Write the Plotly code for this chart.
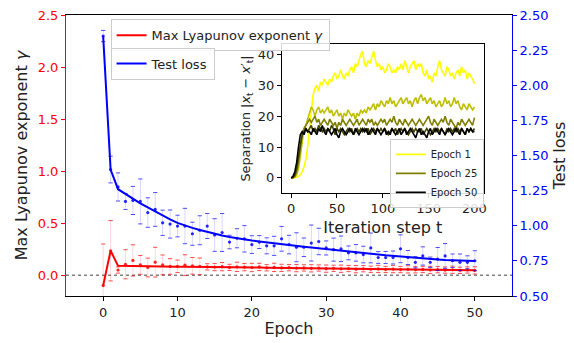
import plotly.graph_objects as go

# ---------------- data ----------------
epochs = list(range(51))

loss_fit = [2.35, 1.40, 1.26, 1.225, 1.19, 1.16, 1.13, 1.10, 1.07, 1.045,
            1.02, 1.0, 0.985, 0.97, 0.955, 0.94, 0.93, 0.92, 0.91, 0.902,
            0.895, 0.888, 0.881, 0.875, 0.869, 0.863, 0.857, 0.851, 0.846, 0.841,
            0.836, 0.831, 0.826, 0.82, 0.814, 0.808, 0.802, 0.796, 0.79, 0.785,
            0.78, 0.775, 0.77, 0.766, 0.762, 0.759, 0.756, 0.754, 0.752, 0.751,
            0.75]
loss_mean = [2.35, 1.40, 1.276, 1.173, 1.18, 1.173, 1.094, 1.116, 1.021, 1.012,
             0.998, 0.998, 0.943, 0.968, 0.998, 0.934, 0.952, 0.884, 0.911, 0.907,
             0.866, 0.884, 0.857, 0.857, 0.907, 0.866, 0.847, 0.847, 0.877, 0.888,
             0.842, 0.830, 0.836, 0.807, 0.807, 0.795, 0.842, 0.774, 0.774, 0.774,
             0.836, 0.774, 0.740, 0.785, 0.740, 0.763, 0.785, 0.751, 0.740, 0.740,
             0.751]
loss_err = [0.04, 0.095, 0.10, 0.057, 0.10, 0.16, 0.105, 0.12, 0.09, 0.10,
            0.077, 0.126, 0.082, 0.103, 0.089, 0.116, 0.135, 0.048, 0.068, 0.094,
            0.063, 0.046, 0.057, 0.068, 0.088, 0.066, 0.103, 0.066, 0.128, 0.094,
            0.05, 0.082, 0.091, 0.049, 0.059, 0.059, 0.106, 0.042, 0.043, 0.046,
            0.099, 0.05, 0.04, 0.065, 0.037, 0.082, 0.088, 0.048, 0.059, 0.046,
            0.071]

lyap_fit = [-0.10, 0.235, 0.09, 0.088, 0.087, 0.086, 0.085, 0.084, 0.083, 0.082,
            0.081, 0.080, 0.080, 0.079, 0.078, 0.078, 0.077, 0.076, 0.076, 0.075,
            0.074, 0.073, 0.072, 0.071, 0.070, 0.069, 0.068, 0.067, 0.066, 0.065,
            0.064, 0.063, 0.062, 0.061, 0.060, 0.059, 0.058, 0.058, 0.057, 0.056,
            0.055, 0.054, 0.053, 0.053, 0.052, 0.051, 0.050, 0.049, 0.048, 0.048,
            0.047]
lyap_mean = [-0.10, 0.235, 0.05, 0.105, 0.142, 0.099, 0.074, 0.125, 0.099, 0.084,
             0.085, 0.096, 0.09, 0.085, 0.08, 0.078, 0.082, 0.075, 0.08, 0.077,
             0.074, 0.079, 0.071, 0.075, 0.07, 0.072, 0.068, 0.07, 0.066, 0.069,
             0.063, 0.066, 0.062, 0.064, 0.058, 0.062, 0.057, 0.06, 0.055, 0.059,
             0.054, 0.056, 0.052, 0.055, 0.05, 0.053, 0.049, 0.052, 0.047, 0.05,
             0.046]
lyap_err = [0.40, 0.29, 0.03, 0.14, 0.15, 0.09, 0.09, 0.143, 0.095, 0.075,
            0.06, 0.10, 0.08, 0.08, 0.03, 0.035, 0.04, 0.03, 0.045, 0.035,
            0.04, 0.035, 0.03, 0.04, 0.035, 0.03, 0.035, 0.03, 0.035, 0.03,
            0.035, 0.03, 0.035, 0.03, 0.035, 0.03, 0.03, 0.035, 0.03, 0.035,
            0.03, 0.035, 0.03, 0.03, 0.035, 0.03, 0.03, 0.035, 0.03, 0.03,
            0.035]

steps = list(range(0, 201, 2))
sep_ep1 = [0, 0, 0, 0.2, 0.5, 1, 2, 3.5, 6, 10,
           16, 22, 27, 29, 30, 28, 31, 30, 32, 31,
           30, 32, 31, 33, 34, 32, 33, 35, 33, 32,
           34, 33, 35, 36, 34, 37, 36, 38, 40, 41,
           37, 36, 38, 37, 39, 41, 38, 36, 37, 35,
           36, 34, 35, 37, 36, 34, 35, 34, 36, 35,
           37, 35, 38, 36, 34, 36, 37, 38, 35, 37,
           36, 37, 34, 33, 35, 32, 33, 31, 34, 33,
           36, 38, 35, 34, 33, 36, 35, 33, 34, 32,
           34, 35, 33, 36, 34, 35, 32, 34, 33, 32,
           30.5]
sep_ep13 = [0, 0, 0.2, 1, 3, 7, 12, 16, 17, 19,
            21, 23, 22, 20, 22, 23, 21, 22, 21, 22,
            23, 21, 22, 20, 21, 22, 20, 21, 19, 21,
            20, 22, 21, 20, 21, 19, 21, 20, 22, 21,
            22, 21, 23, 22, 23, 24, 22, 24, 23, 25,
            24, 23, 25, 24, 26, 24, 25, 23, 24, 25,
            26, 24, 25, 26, 24, 25, 23, 25, 26, 24,
            26, 27, 25, 26, 24, 25, 26, 24, 25, 23,
            24, 25, 23, 24, 26, 24, 25, 23, 24, 26,
            24, 25, 23, 22, 24, 23, 22, 24, 23, 22,
            23]
sep_ep25 = [0, 0, 0.5, 2, 5, 10, 14, 16, 17, 18,
            19, 18, 19, 20, 18, 19, 17, 18, 19, 18,
            17, 19, 18, 17, 18, 16, 18, 17, 19, 18,
            17, 18, 19, 18, 17, 18, 19, 17, 18, 19,
            18, 17, 19, 18, 19, 17, 18, 17, 18, 19,
            18, 19, 17, 18, 19, 18, 20, 18, 17, 19,
            18, 17, 19, 18, 17, 18, 19, 18, 17, 18,
            19, 18, 17, 18, 19, 20, 18, 17, 19, 18,
            17, 18, 19, 18, 20, 18, 17, 19, 18, 17,
            16, 18, 17, 19, 18, 17, 18, 19, 18, 17,
            19.5]
sep_ep37 = [0, 0.2, 1, 3, 7, 11, 14, 15, 16, 15,
            16, 17, 15, 16, 15, 17, 16, 15, 16, 15,
            16, 15, 17, 16, 14, 16, 15, 16, 15, 14,
            15, 16, 15, 16, 14, 15, 16, 15, 16, 15,
            16, 15, 16, 14, 15, 16, 15, 16, 15, 16,
            15, 16, 15, 14, 15, 16, 15, 16, 14, 15,
            16, 15, 16, 15, 14, 15, 16, 15, 16, 15,
            15, 16, 14, 15, 16, 15, 14, 15, 16, 15,
            16, 15, 16, 15, 14, 16, 15, 16, 15, 16,
            15, 16, 15, 16, 15, 14, 16, 15, 16, 15,
            16]
sep_ep50 = [0, 0.5, 2, 5, 10, 14, 15, 14, 16, 15,
            15, 14, 16, 15, 14, 16, 15, 17, 15, 14,
            16, 15, 14, 15, 16, 14, 13, 15, 16, 15,
            14, 15, 16, 15, 14, 16, 15, 14, 15, 16,
            15, 16, 14, 15, 16, 15, 14, 16, 15, 14,
            15, 16, 14, 15, 14, 16, 15, 14, 15, 16,
            14, 15, 16, 14, 15, 16, 15, 14, 13, 15,
            16, 14, 15, 14, 13, 15, 16, 14, 15, 16,
            15, 14, 16, 15, 14, 15, 16, 15, 14, 15,
            16, 15, 14, 16, 15, 14, 16, 15, 16, 15,
            15]

x_ticks = [0, 10, 20, 30, 40, 50]
left_ticks = [0.0, 0.5, 1.0, 1.5, 2.0, 2.5]
right_ticks = [0.5, 0.75, 1.0, 1.25, 1.5, 1.75, 2.0, 2.25, 2.5]
inset_x_ticks = [0, 50, 100, 150, 200]
inset_y_ticks = [0, 10, 20, 30, 40]

# ---------------- figure ----------------
FONT = "DejaVu Sans"
TXT = "#222222"
fig = go.Figure()

def caps(mean, err, sign):
    return [m + sign * e for m, e in zip(mean, err)]

# Test loss (right axis)
fig.add_trace(go.Scatter(
    x=epochs, y=loss_mean, mode="markers", yaxis="y2", showlegend=False,
    marker=dict(size=3.2, color="rgba(0,0,255,0.85)"),
    error_y=dict(type="data", array=loss_err, visible=True, width=0,
                 thickness=1, color="rgba(0,0,255,0.16)")))
for s in (1, -1):
    fig.add_trace(go.Scatter(
        x=epochs, y=caps(loss_mean, loss_err, s), mode="markers", yaxis="y2",
        showlegend=False,
        marker=dict(symbol="line-ew", size=3, line=dict(width=1, color="rgba(0,0,255,0.7)"))))

# Lyapunov (left axis)
fig.add_trace(go.Scatter(
    x=epochs, y=lyap_mean, mode="markers", yaxis="y", showlegend=False,
    marker=dict(size=3.2, color="rgba(255,0,0,0.85)"),
    error_y=dict(type="data", array=lyap_err, visible=True, width=0,
                 thickness=1, color="rgba(255,0,0,0.16)")))
for s in (1, -1):
    fig.add_trace(go.Scatter(
        x=epochs, y=caps(lyap_mean, lyap_err, s), mode="markers", yaxis="y",
        showlegend=False,
        marker=dict(symbol="line-ew", size=3, line=dict(width=1, color="rgba(255,0,0,0.7)"))))

fig.add_trace(go.Scatter(x=epochs, y=lyap_fit, mode="lines", yaxis="y",
                         name="Max Lyapunov exponent <i>γ</i>", legend="legend",
                         line=dict(color="#ff0000", width=2)))
fig.add_trace(go.Scatter(x=epochs, y=loss_fit, mode="lines", yaxis="y2",
                         name="Test loss", legend="legend2",
                         line=dict(color="#0000ff", width=2)))

# Inset curves
inset_series = [
    (sep_ep1, "rgb(255,255,0)", "Epoch 1", True),
    (sep_ep13, "rgb(191,191,0)", "Epoch 13", False),
    (sep_ep25, "rgb(128,128,0)", "Epoch 25", True),
    (sep_ep37, "rgb(64,64,0)", "Epoch 37", False),
    (sep_ep50, "rgb(0,0,0)", "Epoch 50", True),
]
for ys, col, name, show in inset_series:
    fig.add_trace(go.Scatter(x=steps, y=ys, mode="lines", xaxis="x2", yaxis="y3",
                             name=name, showlegend=show, legend="legend3",
                             line=dict(color=col, width=1.6)))

axis_common = dict(ticks="outside", ticklen=4, tickwidth=1, showgrid=False,
                   zeroline=False, showline=True, linewidth=1)

fig.update_layout(
    width=574, height=343,
    margin=dict(l=66, r=61, t=8, b=43),
    paper_bgcolor="white", plot_bgcolor="white",
    font=dict(family=FONT, size=13, color=TXT),
    xaxis=dict(domain=[0, 1], range=[-5, 55], tickvals=x_ticks, anchor="y",
               linecolor="black", tickcolor="black", mirror=True,
               title=dict(text="Epoch", standoff=4), **axis_common),
    yaxis=dict(range=[-0.2, 2.5], tickvals=left_ticks, tickformat=".1f",
               linecolor="red", tickcolor="red", tickfont=dict(color="red"),
               title=dict(text="Max Lyapunov exponent <i>γ</i>", standoff=6),
               **axis_common),
    yaxis2=dict(range=[0.5, 2.5], tickvals=right_ticks, tickformat=".2f",
                overlaying="y", side="right", anchor="x",
                linecolor="blue", tickcolor="blue", tickfont=dict(color="blue"),
                title=dict(text="Test loss", standoff=6), **axis_common),
    xaxis2=dict(domain=[0.4843, 0.9363], range=[-10, 210], tickvals=inset_x_ticks,
                anchor="y3", linecolor="black", tickcolor="black", mirror=True,
                title=dict(text="Iteration step t", standoff=6), **axis_common),
    yaxis3=dict(domain=[0.3675, 0.8962], range=[-4.8, 43.3], tickvals=inset_y_ticks,
                anchor="x2", linecolor="black", tickcolor="black", mirror=True,
                title=dict(text="Separation |<i>x</i><sub>t</sub> − <i>x</i>′<sub>t</sub>|",
                           standoff=4, font=dict(size=12.8)),
                **axis_common),
    legend=dict(x=0.0999, y=0.985, xanchor="left", yanchor="top",
                bgcolor="rgba(255,255,255,0.85)", bordercolor="#cccccc", borderwidth=1,
                font=dict(size=13, color=TXT)),
    legend2=dict(x=0.0999, y=0.884, xanchor="left", yanchor="top",
                 bgcolor="rgba(255,255,255,0.85)", bordercolor="#cccccc", borderwidth=1,
                 font=dict(size=13, color=TXT)),
    legend3=dict(x=0.726, y=0.559, xanchor="left", yanchor="top",
                 bgcolor="rgba(255,255,255,0.85)", bordercolor="#cccccc", borderwidth=1,
                 font=dict(size=10, color=TXT), tracegroupgap=0),
    shapes=[
        dict(type="line", xref="x domain", yref="y", x0=0, x1=1, y0=0, y1=0,
             line=dict(color="gray", width=1.5, dash="dot"), layer="below"),
        dict(type="rect", xref="x2", yref="y3", x0=-10, x1=210, y0=-4.8, y1=43.3,
             fillcolor="white", line=dict(width=0), layer="below"),
    ],
)

fig.write_html("out.html")
